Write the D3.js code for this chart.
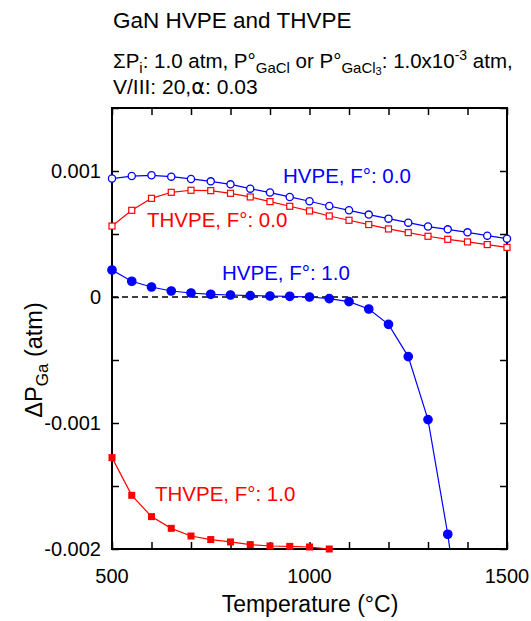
<!DOCTYPE html>
<html><head><meta charset="utf-8">
<script src="https://cdn.jsdelivr.net/npm/d3@7"></script>
<style>body{margin:0;background:#fff}svg{display:block}text{font-family:"Liberation Sans",Arial,sans-serif}</style>
</head><body><svg id="c" width="531" height="621"></svg>
<script>
const temps = [500,550,600,650,700,750,800,850,900,950,1000,1050,1100,1150,1200,1250,1300,1350,1400,1450,1500];
const hvpeF0 = [0.000940,0.000960,0.000966,0.000955,0.000937,0.000918,0.000894,0.000860,0.000829,0.000794,0.000760,0.000722,0.000688,0.000654,0.000622,0.000590,0.000559,0.000537,0.000513,0.000487,0.000463];
const thvpeF0 = [0.000563,0.000688,0.000783,0.000831,0.000847,0.000844,0.000823,0.000794,0.000757,0.000720,0.000683,0.000643,0.000609,0.000575,0.000540,0.000511,0.000482,0.000458,0.000437,0.000416,0.000394];
const tempsHF1 = [500,550,600,650,700,750,800,850,900,950,1000,1050,1100,1150,1200,1250,1300,1350,1400];
const hvpeF1 = [0.000214,0.000125,0.0000794,0.0000476,0.0000317,0.0000214,0.0000159,0.0000111,0.0000079,0.0000056,0.0,-0.0000127,-0.0000365,-0.0000952,-0.000217,-0.000473,-0.000973,-0.001883,-0.00300];
const tempsTF1 = [500,550,600,650,700,750,800,850,900,950,1000,1050];
const thvpeF1 = [-0.001275,-0.001574,-0.001743,-0.001836,-0.001897,-0.001925,-0.001944,-0.001965,-0.001976,-0.001979,-0.001984,-0.002000];
const xTickLabels = [500,1000,1500];
const yTickLabels = [0.001,0,-0.001,-0.002];
const yTickText = ["0.001","0","-0.001","-0.002"];

const svg = d3.select("#c");
const L=112,R=507,T=108,B=549;
const x = d3.scaleLinear().domain([500,1500]).range([L,R]);
const y = d3.scaleLinear().domain([-0.002,0.0015]).range([B,T]);

svg.append("defs").append("clipPath").attr("id","clip")
  .append("rect").attr("x",L).attr("y",T).attr("width",R-L).attr("height",B-T);

// title
svg.append("text").attr("x",113).attr("y",28).attr("font-size",22.5).text("GaN HVPE and THVPE");
const st = svg.append("text").attr("x",113).attr("y",68).attr("font-size",20.5);
st.append("tspan").text("ΣP");
st.append("tspan").attr("font-size",15).attr("dy",5).text("i");
st.append("tspan").attr("dy",-5).text(": 1.0 atm, P°");
st.append("tspan").attr("font-size",15).attr("dy",5).text("GaCl");
st.append("tspan").attr("dy",-5).text(" or P°");
st.append("tspan").attr("font-size",15).attr("dy",5).text("GaCl");
st.append("tspan").attr("font-size",11).attr("dy",2).text("3");
st.append("tspan").attr("dy",-7).text(": 1.0x10");
st.append("tspan").attr("font-size",14).attr("dy",-8).text("-3");
st.append("tspan").attr("dy",8).text(" atm,");
const st2 = svg.append("text").attr("x",113).attr("y",94).attr("font-size",21);
st2.append("tspan").text("V/III: 20,");
st2.append("tspan").attr("font-family","DejaVu Sans").text("α");
st2.append("tspan").text(": 0.03");

// zero dashed
svg.append("line").attr("x1",L).attr("x2",R).attr("y1",y(0)).attr("y2",y(0))
  .attr("stroke","#000").attr("stroke-width",1.5).attr("stroke-dasharray","6,4");

// axes
const tk=7;
const gB = svg.append("g").attr("transform",`translate(0,${B})`)
  .call(d3.axisBottom(x).tickValues(d3.range(500,1501,100)).tickSize(-tk).tickFormat(""));
const gT = svg.append("g").attr("transform",`translate(0,${T})`)
  .call(d3.axisTop(x).tickValues(d3.range(500,1501,100)).tickSize(-tk).tickFormat(""));
const yt = [-0.002,-0.0015,-0.001,-0.0005,0,0.0005,0.001,0.0015];
const gL = svg.append("g").attr("transform",`translate(${L},0)`)
  .call(d3.axisLeft(y).tickValues(yt).tickSize(-tk).tickFormat(""));
const gR = svg.append("g").attr("transform",`translate(${R},0)`)
  .call(d3.axisRight(y).tickValues(yt).tickSize(-tk).tickFormat(""));
[gB,gT,gL,gR].forEach(g=>{g.select(".domain").remove();g.selectAll("line").attr("stroke","#000").attr("stroke-width",1.5);});
svg.append("rect").attr("x",L).attr("y",T).attr("width",R-L).attr("height",B-T)
  .attr("fill","none").attr("stroke","#000").attr("stroke-width",2);

// tick labels
svg.selectAll(".xl").data(xTickLabels).join("text").attr("x",d=>x(d)).attr("y",583)
  .attr("text-anchor","middle").attr("font-size",20).text(d=>d);
svg.selectAll(".yl").data(yTickLabels).join("text").attr("x",101).attr("y",d=>y(d)+7)
  .attr("text-anchor","end").attr("font-size",20).text((d,i)=>yTickText[i]);

// axis titles
svg.append("text").attr("x",310).attr("y",612).attr("text-anchor","middle").attr("font-size",23).text("Temperature (°C)");
const yl = svg.append("text").attr("transform","translate(42,360) rotate(-90)").attr("text-anchor","middle").attr("font-size",23.5);
yl.append("tspan").text("ΔP");
yl.append("tspan").attr("font-size",17).attr("dy",6).text("Ga");
yl.append("tspan").attr("dy",-6).text(" (atm)");

// series
const plot = svg.append("g").attr("clip-path","url(#clip)");
function series(xs, ys, color, shape, filled){
  const pts = xs.map((t,i)=>[t,ys[i]]);
  plot.append("path").datum(pts).attr("fill","none").attr("stroke",color).attr("stroke-width",1.2)
    .attr("d",d3.line().x(d=>x(d[0])).y(d=>y(d[1])));
  const g = svg.append("g");
  const vis = pts.filter(d=>d[1]>=-0.00201);
  if(shape==="circle"){
    g.selectAll("circle").data(vis).join("circle").attr("cx",d=>x(d[0])).attr("cy",d=>y(d[1]))
      .attr("r",filled?4.2:3.6).attr("fill",filled?color:"#fff").attr("stroke",color).attr("stroke-width",1.3);
  } else {
    const s = filled?7:6;
    g.selectAll("rect").data(vis).join("rect").attr("x",d=>x(d[0])-s/2).attr("y",d=>y(d[1])-s/2)
      .attr("width",s).attr("height",s).attr("fill",filled?color:"#fff").attr("stroke",color).attr("stroke-width",filled?0:1.2);
  }
}
series(temps, thvpeF0, "#ff0000", "square", false);
series(temps, hvpeF0, "#0000ff", "circle", false);
series(tempsTF1, thvpeF1, "#ff0000", "square", true);
series(tempsHF1, hvpeF1, "#0000ff", "circle", true);

// labels
svg.append("text").attr("x",283).attr("y",183).attr("font-size",20.5).attr("fill","#0000ff").text("HVPE, F°: 0.0");
svg.append("text").attr("x",147).attr("y",227).attr("font-size",20.5).attr("fill","#ff0000").text("THVPE, F°: 0.0");
svg.append("text").attr("x",222).attr("y",280).attr("font-size",20.5).attr("fill","#0000ff").text("HVPE, F°: 1.0");
svg.append("text").attr("x",155).attr("y",501).attr("font-size",20.5).attr("fill","#ff0000").text("THVPE, F°: 1.0");
</script></body></html>
